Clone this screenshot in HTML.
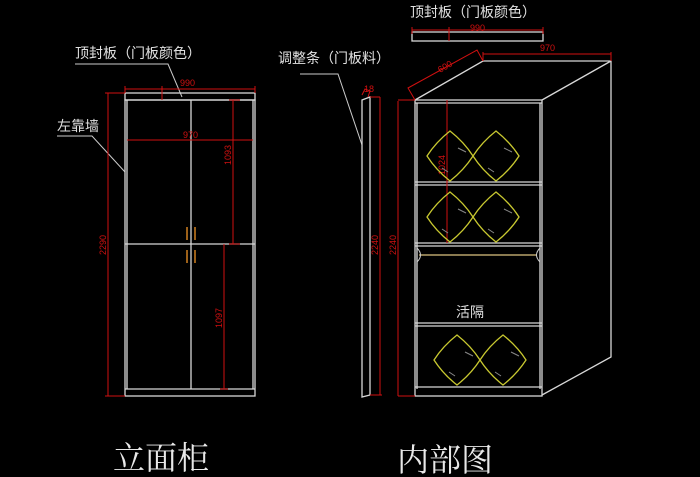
<!DOCTYPE html>
<html><head><meta charset="utf-8"><style>
html,body{margin:0;padding:0;background:#000;width:700px;height:477px;overflow:hidden}
svg{display:block}
text{font-family:"Liberation Sans","Noto Sans CJK SC",sans-serif}
.w{stroke:#d8d8d8;stroke-width:1.3;fill:none}
.r{stroke:#d01010;stroke-width:1;fill:none}
.rt{fill:#d01010;font-size:9px}
.lb{fill:#e0e0e0;font-size:14px}
.y{stroke:#c8c830;stroke-width:1.3;fill:none}
</style></head><body>
<svg width="700" height="477" viewBox="0 0 700 477">
<defs>
<g id="pil">
<path class="y" d="M0,-25 Q14,-14 23,0 Q14,14 0,25 Q-14,14 -23,0 Q-14,-14 0,-25Z"/>
<path d="M8,-8 l8,4 M-8,12 l6,4" stroke="#888" stroke-width="1"/>
</g>
</defs>
<!-- LEFT cabinet -->
<text class="lb" x="75" y="58">顶封板（门板颜色）</text>
<path d="M75,64H168L182,97" stroke="#ccc" stroke-width="1" fill="none"/>
<text class="lb" x="57" y="131">左靠墙</text>
<path d="M57,136H92L125,172" stroke="#ccc" stroke-width="1" fill="none"/>
<rect class="w" x="125" y="93" width="130" height="7"/>
<rect class="w" x="125" y="100" width="130" height="296"/>
<path class="w" d="M127,100V389M253,100V389M191,100V389M125,244H255M125,389H255"/>
<path d="M187,227V240M195,227V240M187,250V263M195,250V263" stroke="#d08020" stroke-width="1.5"/>
<path class="r" d="M125,89H255M125,86V93M255,86V93M162,86V100M108,93V396M105,93H125M105,396H125M127,140H253M233,100V244M229,100H240M229,244H240M224,244V389M220,389H228"/>
<text class="rt" x="180" y="86">990</text>
<text class="rt" x="183" y="138">970</text>
<text class="rt" transform="translate(106,245) rotate(-90)" text-anchor="middle">2290</text>
<text class="rt" transform="translate(231,155) rotate(-90)" text-anchor="middle">1093</text>
<text class="rt" transform="translate(222,318) rotate(-90)" text-anchor="middle">1097</text>
<!-- MIDDLE strip -->
<text class="lb" x="278" y="63">调整条（门板料）</text>
<path d="M300,74H338L362,145" stroke="#ccc" stroke-width="1" fill="none"/>
<path class="w" d="M362,100L370,97V395L362,397Z"/>
<path class="r" d="M362,95L365,89L370,91L368,97M370,97H380M380,97V395M370,395H382M398,101V396"/>
<text class="rt" x="364" y="92">18</text>
<text class="rt" transform="translate(378,245) rotate(-90)" text-anchor="middle">2240</text>
<text class="rt" transform="translate(396,245) rotate(-90)" text-anchor="middle">2240</text>
<!-- RIGHT cabinet -->
<text class="lb" x="410" y="17">顶封板（门板颜色）</text>
<rect class="w" x="412" y="32" width="131" height="9"/>
<path class="r" d="M412,30H543M412,27V34M543,27V34M449,27V41"/>
<text class="rt" x="470" y="31">990</text>
<path class="w" d="M415,100L483,61H611V357L542,395M542,100L611,61"/>
<rect class="w" x="415" y="100" width="127" height="296"/>
<path class="w" d="M417,103V389M540,103V389M415,103H542M415,182H542M415,185H542M415,243H542M415,246H542M415,323H542M415,326H542M415,387H542"/>
<path d="M419,255H537" stroke="#8a7a50" stroke-width="2"/>
<path d="M417,248q7,7 0,14M540,248q-7,7 0,14" stroke="#ccc" stroke-width="1" fill="none"/>
<path class="r" d="M483,61V52M611,61V52M483,54H611M415,100L408,88L477,50L483,61M398,100H415M398,396H415M447,100V243"/>
<text class="rt" x="540" y="51">970</text>
<text class="rt" transform="translate(440,73) rotate(-30)">600</text>
<text class="rt" transform="translate(445,165) rotate(-90)" text-anchor="middle">1024</text>
<use href="#pil" x="450" y="156"/><use href="#pil" x="496" y="156"/>
<use href="#pil" x="450" y="217"/><use href="#pil" x="496" y="217"/>
<use href="#pil" x="457" y="360"/><use href="#pil" x="503" y="360"/>
<text class="lb" x="456" y="317">活隔</text>
<!-- big labels -->
<text x="113" y="469" style="font-family:'Noto Serif CJK SC',serif;font-size:32px;fill:#e8e8e8">立面柜</text>
<text x="397" y="471" style="font-family:'Noto Serif CJK SC',serif;font-size:32px;fill:#e8e8e8">内部图</text>
</svg>
</body></html>
